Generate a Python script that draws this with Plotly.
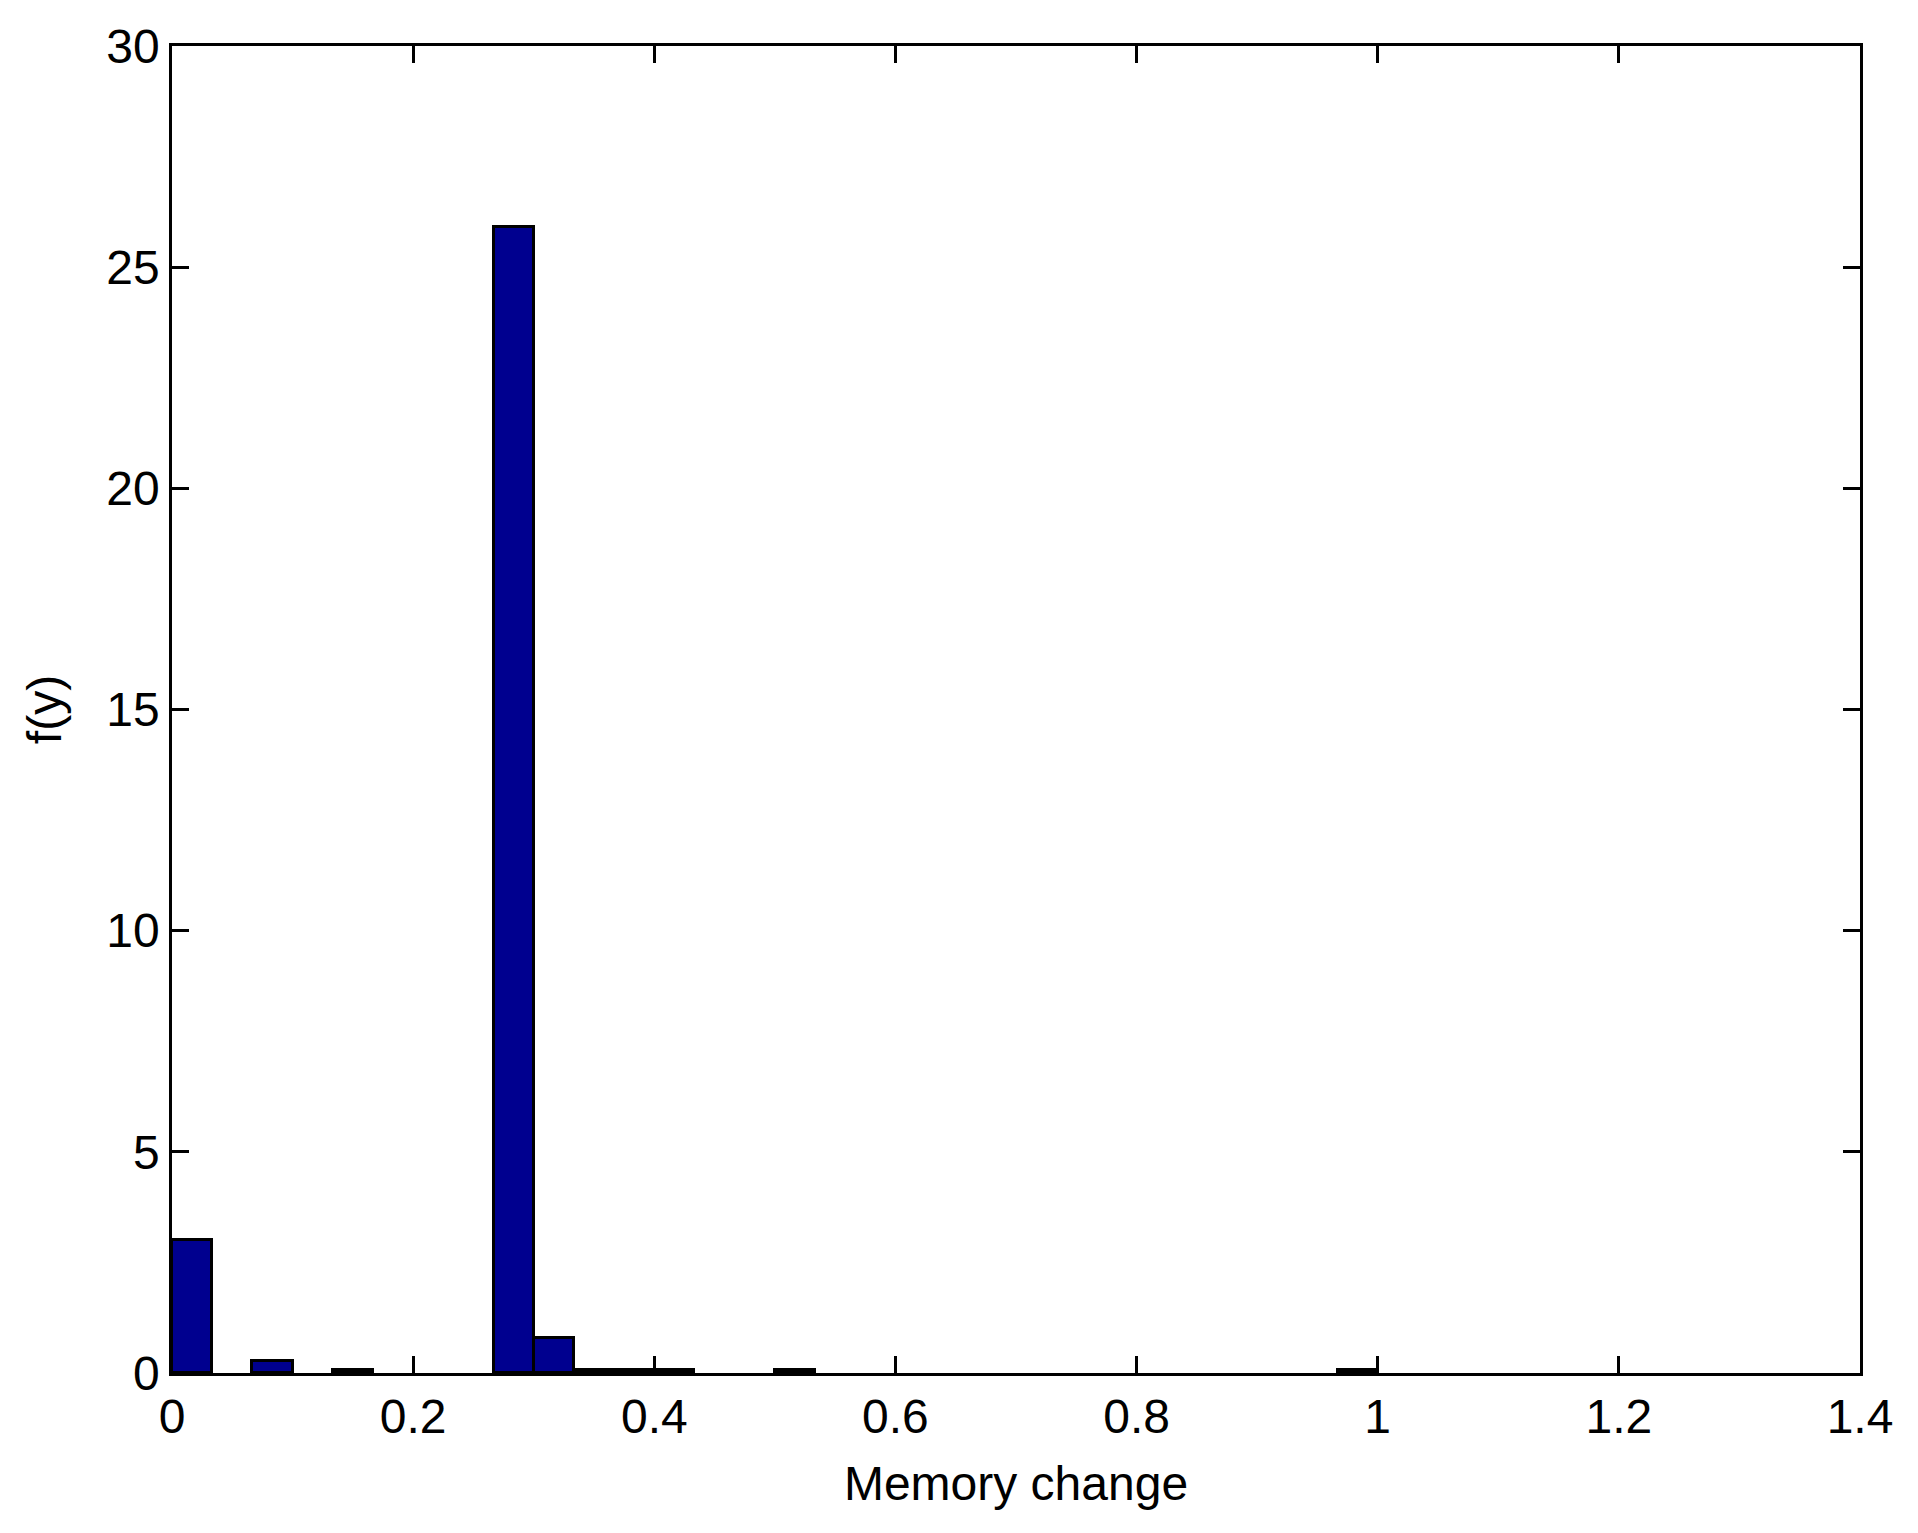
import plotly.graph_objects as go

# Histogram data: 30 bins of width 1/30 on [0, 1], density values f(y)
bin_width = 1.0 / 30.0
bin_index = list(range(30))
density = [3.0, 0.0, 0.27, 0.0, 0.07, 0.0, 0.0, 0.0, 25.9, 0.8,
           0.07, 0.07, 0.07, 0.0, 0.0, 0.07, 0.0, 0.0, 0.0, 0.0,
           0.0, 0.0, 0.0, 0.0, 0.0, 0.0, 0.0, 0.0, 0.0, 0.07]

x_ticks = [0, 0.2, 0.4, 0.6, 0.8, 1.0, 1.2, 1.4]
x_tick_labels = ["0", "0.2", "0.4", "0.6", "0.8", "1", "1.2", "1.4"]
y_ticks = [0, 5, 10, 15, 20, 25, 30]

# only non-empty bins are drawn
bar_x = [(i + 0.5) * bin_width for i, d in zip(bin_index, density) if d > 0]
bar_y = [d for d in density if d > 0]

FONT = "Liberation Sans, Arial, sans-serif"

fig = go.Figure()
fig.add_trace(go.Bar(
    x=bar_x,
    y=bar_y,
    width=bin_width,
    marker=dict(color="rgb(0,0,143)", line=dict(color="black", width=3)),
    showlegend=False,
))

axis_common = dict(
    showline=True, linecolor="black", linewidth=2.5, mirror="ticks",
    ticks="inside", ticklen=17, tickwidth=2.5, tickcolor="black",
    showgrid=False, zeroline=False,
    tickfont=dict(family=FONT, size=48, color="black"),
)

fig.update_layout(
    width=1918, height=1533,
    margin=dict(l=164, r=66, t=28, b=168),
    paper_bgcolor="white", plot_bgcolor="white",
    bargap=0,
    font=dict(family=FONT, color="black"),
    xaxis=dict(
        range=[0, 1.4], tickvals=x_ticks, ticktext=x_tick_labels,
        title=dict(text="Memory change", font=dict(family=FONT, size=48, color="black"), standoff=25),
        **axis_common,
    ),
    yaxis=dict(
        range=[0, 30], tickvals=y_ticks,
        title=dict(text="f(y)", font=dict(family=FONT, size=48, color="black"), standoff=30),
        **axis_common,
    ),
)

fig.write_html("out.html")
